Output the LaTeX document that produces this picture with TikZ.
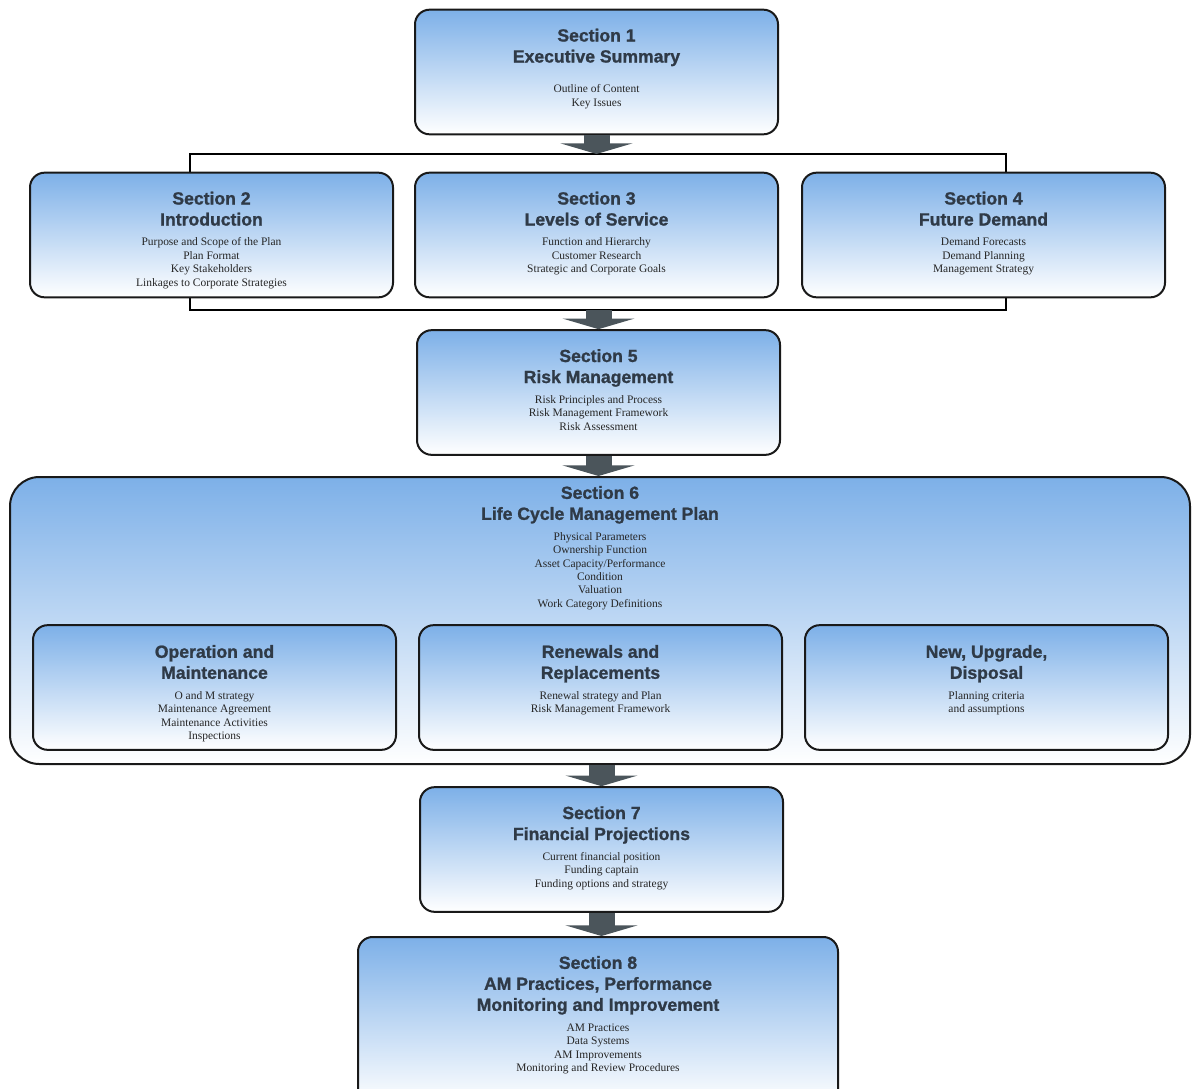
\documentclass[tikz,border=0pt]{standalone}
\usepackage{fontspec}
\setmainfont{Liberation Serif}
\setsansfont{Liberation Sans}[BoldFeatures={FakeBold=1.2}]
\usetikzlibrary{positioning, arrows.meta}
\definecolor{skytop}{HTML}{7DB0E8}
\definecolor{skymid}{HTML}{CFE2F5}
\definecolor{titleink}{HTML}{2F3A47}
\definecolor{arrowgrey}{HTML}{4B555B}
\newcommand{\ttlfont}{\fontsize{13.2}{15.75}\selectfont\sffamily\bfseries\color{titleink}}
\newcommand{\bdyfont}{\fontsize{8.6}{10.1}\selectfont\rmfamily\color{black!85}}
\tikzset{
  secbox/.style = {draw = black!90, line width = 1.5pt, rounded corners = 11pt,
    top color = skytop, middle color = skymid, bottom color = white,
    minimum width = 272.25pt, minimum height = 93.5pt, inner sep = 0pt},
  ttl/.style = {inner sep = 0pt, align = center, font = \ttlfont},
  bdy/.style = {inner sep = 0pt, align = center, font = \bdyfont},
  bigarrow/.style = {draw = arrowgrey, line width = 19.5pt,
    -{Triangle[length = 8pt, width = 54pt]}},
  bracket/.style = {draw = black, line width = 0.9pt}
}

\begin{document}
\begin{tikzpicture}[x = 0.75pt, y = -0.75pt]
\useasboundingbox (0,0) rectangle (1197,1089);
\clip (0,0) rectangle (1197,1089);

% brackets round sections 2 to 4
\coordinate (tl) at (190,154);
\coordinate (tr) at (1006,154);
\coordinate (bl) at (190,310);
\coordinate (br) at (1006,310);
\draw[bracket] (190,200) -- (tl) -- (tr) -- (1006,200);
\draw[bracket] (190,260) -- (bl) -- (br) -- (1006,260);

% section boxes
\node[secbox] (s1) at (596.5,72) {};
\node[ttl, below = 13.4pt of s1.north] (s1t) {\strut Section 1\\Executive Summary\strut};
\node[bdy, below = 10.5pt of s1t] (s1b) {\strut Outline of Content\\Key Issues};

\node[secbox] (s2) at (211.5,235) {};
\node[ttl, below = 13.4pt of s2.north] (s2t) {\strut Section 2\\Introduction\strut};
\node[bdy, below = 3pt of s2t] (s2b) {\strut Purpose and Scope of the Plan\\Plan Format\\Key Stakeholders\\Linkages to Corporate Strategies};

\node[secbox] (s3) at (596.5,235) {};
\node[ttl, below = 13.4pt of s3.north] (s3t) {\strut Section 3\\Levels of Service\strut};
\node[bdy, below = 3pt of s3t] (s3b) {\strut Function and Hierarchy\\Customer Research\\Strategic and Corporate Goals};

\node[secbox] (s4) at (983.5,235) {};
\node[ttl, below = 13.4pt of s4.north] (s4t) {\strut Section 4\\Future Demand\strut};
\node[bdy, below = 3pt of s4t] (s4b) {\strut Demand Forecasts\\Demand Planning\\Management Strategy};

\node[secbox] (s5) at (598.5,392.5) {};
\node[ttl, below = 13.4pt of s5.north] (s5t) {\strut Section 5\\Risk Management\strut};
\node[bdy, below = 3pt of s5t] (s5b) {\strut Risk Principles and Process\\Risk Management Framework\\Risk Assessment};

% life cycle plan with its three parts
\node[secbox, rounded corners = 22pt, minimum width = 885pt, minimum height = 215.25pt] (s6) at (600,620.5) {};
\node[ttl, below = 5.9pt of s6.north] (s6t) {\strut Section 6\\Life Cycle Management Plan\strut};
\node[bdy, below = 3pt of s6t] (s6b) {\strut Physical Parameters\\Ownership Function\\Asset Capacity/Performance\\Condition\\Valuation\\Work Category Definitions};

\node[secbox] (om) at (214.5,687.5) {};
\node[ttl, below = 14pt of om.north] (omt) {\strut Operation and\\Maintenance\strut};
\node[bdy, below = 3pt of omt] (omb) {\strut O and M strategy\\Maintenance Agreement\\Maintenance Activities\\Inspections};

\node[secbox] (rr) at (600.5,687.5) {};
\node[ttl, below = 14pt of rr.north] (rrt) {\strut Renewals and\\Replacements\strut};
\node[bdy, below = 3pt of rrt] (rrb) {\strut Renewal strategy and Plan\\Risk Management Framework};

\node[secbox] (nud) at (986.5,687.5) {};
\node[ttl, below = 14pt of nud.north] (nudt) {\strut New, Upgrade,\\Disposal\strut};
\node[bdy, below = 3pt of nudt] (nudb) {\strut Planning criteria\\and assumptions};

\node[secbox] (s7) at (601.5,849.5) {};
\node[ttl, below = 13.4pt of s7.north] (s7t) {\strut Section 7\\Financial Projections\strut};
\node[bdy, below = 3pt of s7t] (s7b) {\strut Current financial position\\Funding captain\\Funding options and strategy};

\node[secbox, minimum width = 360pt, minimum height = 126pt] (s8) at (598,1021) {};
\node[ttl, below = 13.4pt of s8.north] (s8t) {\strut Section 8\\AM Practices, Performance\\Monitoring and Improvement\strut};
\node[bdy, below = 3pt of s8t] (s8b) {\strut AM Practices\\Data Systems\\AM Improvements\\Monitoring and Review Procedures};

% flow arrows
\draw[bigarrow] (s1.south) -- (s1.south |- tl);
\draw[bigarrow] (s5.north |- bl) -- (s5.north);
\draw[bigarrow] (s5.south) -- (s5.south |- s6.north);
\draw[bigarrow] (s6.south -| s7.north) -- (s7.north);
\draw[bigarrow] (s7.south) -- (s7.south |- s8.north);
\end{tikzpicture}
\end{document}
